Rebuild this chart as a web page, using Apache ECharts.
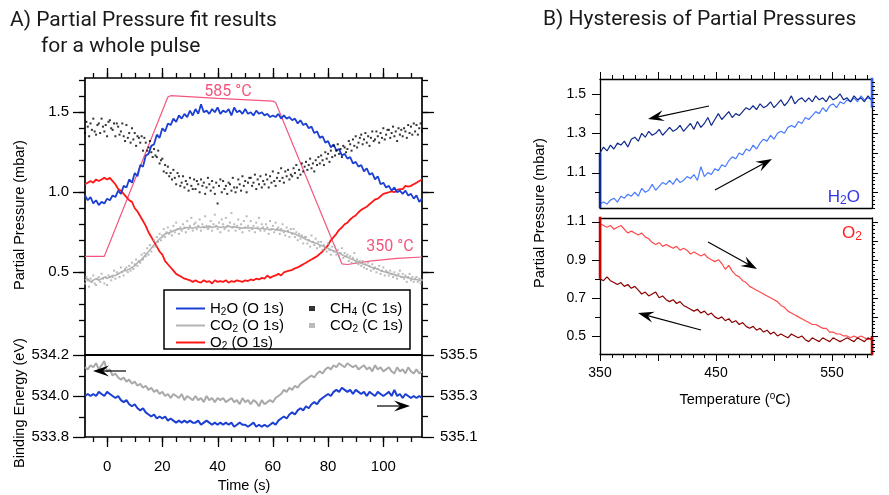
<!DOCTYPE html>
<html><head><meta charset="utf-8">
<script src="https://cdn.jsdelivr.net/npm/echarts@6/dist/echarts.min.js"></script>
<style>html,body{margin:0;padding:0;background:#fff}#c{width:889px;height:495px}</style>
</head><body><div id="c"></div>
<script>
// ---------- Panel A : sampling grid of the traces ----------
const A_T0 = -8, A_DT = 1;      // O 1s traces and binding energies (s)
const A_SDT = 0.5;              // C 1s scatter traces (s)

// Partial pressures (mbar), O 1s, t = -8 .. 114 s
const h2oO1s = [0.98,0.95,0.97,0.93,0.95,0.92,0.94,0.93,0.96,0.95,
0.98,0.97,1.01,0.99,1.04,1.03,1.08,1.06,1.12,1.10,
1.17,1.16,1.23,1.24,1.29,1.30,1.36,1.34,1.40,1.38,
1.43,1.42,1.46,1.44,1.48,1.46,1.49,1.47,1.51,1.48,
1.52,1.49,1.55,1.50,1.51,1.49,1.52,1.50,1.53,1.49,
1.51,1.50,1.52,1.48,1.53,1.50,1.51,1.49,1.52,1.49,
1.50,1.48,1.51,1.49,1.50,1.48,1.49,1.47,1.48,1.47,
1.49,1.46,1.48,1.46,1.47,1.45,1.46,1.43,1.45,1.42,
1.43,1.40,1.41,1.37,1.38,1.34,1.35,1.31,1.32,1.28,
1.30,1.26,1.27,1.23,1.24,1.21,1.22,1.18,1.19,1.16,
1.17,1.13,1.15,1.11,1.12,1.08,1.10,1.05,1.06,1.03,
1.04,1.01,1.03,1.00,1.01,0.99,1.01,0.98,0.99,0.96,
0.98,0.94,0.96];
const o2O1s = [1.05,1.06,1.07,1.06,1.08,1.07,1.08,1.09,1.08,1.09,
1.07,1.05,1.02,1.01,0.99,0.97,0.95,0.94,0.90,0.88,
0.85,0.82,0.79,0.75,0.72,0.69,0.66,0.63,0.61,0.57,
0.55,0.53,0.51,0.49,0.48,0.47,0.46,0.455,0.45,0.44,
0.45,0.44,0.435,0.45,0.44,0.445,0.43,0.45,0.44,0.445,
0.44,0.45,0.435,0.445,0.44,0.45,0.445,0.44,0.45,0.445,
0.455,0.45,0.46,0.455,0.465,0.46,0.48,0.465,0.475,0.48,
0.49,0.48,0.50,0.505,0.51,0.515,0.525,0.53,0.54,0.55,
0.56,0.57,0.58,0.59,0.60,0.615,0.63,0.65,0.67,0.70,
0.72,0.74,0.765,0.78,0.80,0.81,0.83,0.845,0.855,0.875,
0.89,0.90,0.91,0.925,0.94,0.955,0.96,0.975,0.99,0.995,
1.00,1.005,1.00,1.015,1.02,1.02,1.04,1.035,1.04,1.05,
1.06,1.07,1.08];
const co2O1s = [0.45,0.46,0.44,0.45,0.46,0.45,0.46,0.47,0.46,0.47,
0.48,0.48,0.49,0.50,0.51,0.51,0.52,0.53,0.54,0.56,
0.57,0.59,0.61,0.63,0.65,0.67,0.69,0.71,0.72,0.74,
0.745,0.75,0.76,0.765,0.77,0.77,0.775,0.78,0.78,0.775,
0.78,0.785,0.78,0.785,0.78,0.79,0.78,0.785,0.785,0.78,
0.785,0.78,0.79,0.78,0.785,0.78,0.78,0.775,0.78,0.775,
0.78,0.775,0.775,0.77,0.775,0.77,0.77,0.765,0.77,0.765,
0.765,0.76,0.76,0.755,0.75,0.745,0.74,0.73,0.725,0.715,
0.705,0.70,0.69,0.685,0.68,0.67,0.665,0.655,0.65,0.64,
0.635,0.625,0.62,0.61,0.60,0.595,0.585,0.58,0.57,0.565,
0.555,0.55,0.545,0.535,0.53,0.525,0.52,0.51,0.505,0.50,
0.495,0.49,0.485,0.48,0.475,0.47,0.47,0.465,0.46,0.455,
0.455,0.45,0.45];
// C 1s scatter, t = -8 .. 114 s every 0.5 s
const ch4C1s = [1.37,1.44,1.41,1.35,1.43,1.39,1.46,1.38,1.36,1.42,
1.43,1.37,1.46,1.41,1.38,1.42,1.35,1.44,1.45,1.40,
1.39,1.43,1.35,1.43,1.41,1.36,1.38,1.43,1.35,1.32,
1.42,1.34,1.37,1.31,1.40,1.33,1.37,1.29,1.35,1.34,
1.31,1.35,1.26,1.34,1.31,1.26,1.28,1.32,1.25,1.22,
1.27,1.23,1.22,1.26,1.18,1.20,1.21,1.13,1.17,1.12,
1.16,1.10,1.12,1.08,1.14,1.09,1.05,1.12,1.10,1.04,
1.06,1.10,1.03,1.07,1.05,1.01,1.09,1.04,1.02,1.08,
1.02,1.07,1.05,1.00,1.08,1.04,1.06,0.99,1.03,1.09,
1.05,1.01,1.07,1.03,0.99,1.06,0.93,1.04,1.08,1.00,
1.07,1.02,1.04,0.99,1.06,1.05,1.01,1.09,1.03,1.00,
1.03,1.08,1.05,1.01,1.10,1.04,1.07,1.00,1.06,1.09,
1.09,1.04,1.06,1.11,1.02,1.08,1.05,1.10,1.03,1.07,
1.05,1.11,1.08,1.03,1.10,1.06,1.13,1.07,1.04,1.09,
1.12,1.07,1.15,1.09,1.06,1.13,1.10,1.14,1.08,1.11,
1.10,1.15,1.12,1.17,1.09,1.14,1.11,1.18,1.13,1.16,
1.19,1.14,1.17,1.21,1.15,1.18,1.13,1.20,1.17,1.22,
1.18,1.23,1.20,1.17,1.25,1.21,1.24,1.19,1.26,1.22,
1.29,1.23,1.26,1.30,1.24,1.27,1.22,1.29,1.28,1.25,
1.27,1.32,1.30,1.26,1.33,1.29,1.35,1.28,1.31,1.34,
1.36,1.30,1.33,1.37,1.31,1.35,1.29,1.34,1.38,1.32,
1.33,1.38,1.35,1.31,1.37,1.34,1.40,1.33,1.36,1.39,
1.39,1.34,1.37,1.41,1.35,1.38,1.32,1.40,1.36,1.39,
1.35,1.40,1.38,1.34,1.42,1.37,1.41,1.36,1.43,1.38,
1.42,1.36,1.40,1.43,1.38];
const co2C1s = [0.43,0.47,0.45,0.41,0.46,0.44,0.48,0.43,0.42,0.46,
0.47,0.44,0.49,0.46,0.43,0.47,0.42,0.48,0.47,0.45,
0.47,0.51,0.46,0.50,0.49,0.47,0.53,0.50,0.48,0.52,
0.53,0.50,0.54,0.51,0.56,0.52,0.55,0.58,0.54,0.57,
0.56,0.61,0.58,0.62,0.60,0.65,0.61,0.67,0.63,0.66,
0.70,0.66,0.72,0.69,0.74,0.70,0.73,0.77,0.72,0.75,
0.78,0.74,0.76,0.73,0.79,0.75,0.81,0.77,0.74,0.78,
0.76,0.80,0.78,0.75,0.82,0.77,0.79,0.84,0.76,0.80,
0.81,0.77,0.79,0.83,0.76,0.80,0.78,0.85,0.79,0.77,
0.78,0.82,0.76,0.80,0.86,0.79,0.77,0.81,0.75,0.83,
0.80,0.77,0.84,0.79,0.76,0.81,0.87,0.78,0.80,0.76,
0.79,0.83,0.77,0.80,0.75,0.82,0.78,0.85,0.79,0.76,
0.82,0.77,0.79,0.75,0.81,0.78,0.84,0.76,0.80,0.78,
0.76,0.80,0.78,0.74,0.82,0.77,0.79,0.75,0.81,0.77,
0.78,0.74,0.77,0.80,0.75,0.73,0.78,0.76,0.72,0.77,
0.74,0.77,0.72,0.75,0.70,0.74,0.71,0.73,0.68,0.72,
0.72,0.68,0.70,0.66,0.73,0.69,0.67,0.71,0.65,0.69,
0.66,0.69,0.64,0.67,0.65,0.63,0.68,0.64,0.61,0.66,
0.63,0.66,0.61,0.64,0.60,0.62,0.65,0.59,0.62,0.60,
0.61,0.57,0.60,0.56,0.59,0.62,0.56,0.58,0.55,0.57,
0.54,0.57,0.53,0.55,0.52,0.56,0.54,0.51,0.55,0.52,
0.53,0.50,0.52,0.54,0.49,0.51,0.53,0.48,0.51,0.50,
0.48,0.51,0.49,0.47,0.50,0.48,0.46,0.49,0.51,0.47,
0.49,0.46,0.48,0.44,0.47,0.49,0.45,0.47,0.44,0.46,
0.47,0.44,0.46,0.43,0.45];
// Binding energies (eV), t = -8 .. 114 s
const beCO2 = [534.14,534.13,534.15,534.14,534.16,534.13,534.15,534.17,534.12,534.13,
534.10,534.11,534.09,534.08,534.09,534.07,534.08,534.06,534.07,534.05,
534.06,534.04,534.05,534.03,534.04,534.02,534.03,534.01,534.02,534.00,
534.01,533.99,534.01,534.00,533.99,534.01,533.98,534.00,533.99,533.98,
534.00,533.98,533.99,533.97,534.00,533.98,533.99,533.97,533.99,533.98,
533.99,533.97,533.98,533.99,533.97,533.98,533.96,533.99,533.97,533.98,
533.96,533.98,533.97,533.95,533.98,533.96,533.97,533.98,533.97,533.99,
534.00,534.01,534.03,534.02,534.04,534.03,534.05,534.04,534.06,534.07,
534.08,534.09,534.10,534.09,534.11,534.12,534.11,534.13,534.14,534.13,
534.15,534.14,534.16,534.15,534.14,534.16,534.15,534.14,534.15,534.13,
534.14,534.15,534.13,534.14,534.12,534.15,534.13,534.14,534.12,534.13,
534.14,534.12,534.11,534.14,534.12,534.13,534.11,534.14,534.12,534.11,
534.13,534.11,534.12];
const beH2O = [535.30,535.31,535.30,535.31,535.30,535.32,535.31,535.30,535.32,535.31,
535.30,535.29,535.30,535.28,535.27,535.28,535.26,535.25,535.26,535.24,
535.23,535.24,535.22,535.21,535.20,535.21,535.19,535.20,535.19,535.20,
535.18,535.19,535.18,535.17,535.18,535.17,535.18,535.17,535.18,535.17,
535.17,535.18,535.16,535.17,535.18,535.17,535.16,535.17,535.16,535.17,
535.16,535.17,535.16,535.17,535.15,535.16,535.17,535.16,535.16,535.15,
535.16,535.17,535.15,535.16,535.15,535.16,535.15,535.16,535.17,535.16,
535.18,535.19,535.20,535.19,535.21,535.22,535.21,535.23,535.24,535.23,
535.25,535.24,535.26,535.27,535.26,535.28,535.29,535.30,535.31,535.30,
535.32,535.33,535.32,535.34,535.33,535.32,535.33,535.31,535.33,535.32,
535.31,535.32,535.30,535.32,535.31,535.30,535.32,535.31,535.30,535.31,
535.32,535.30,535.33,535.30,535.31,535.29,535.31,535.30,535.29,535.30,
535.29,535.30,535.29];
// Sample temperature (°C) during the pulse
const tempTime = [-8,-1,22,23,40,60,61,85,87,95,105,114];
const tempC    = [350,350,584,586,582,578,576,339,338,343,347,349];

// ---------- Panel B : hysteresis, T = 350 .. 584 °C every 3 °C ----------
const B_T0 = 350, B_DT = 3;
const h2oCool = [1.20,1.23,1.21,1.24,1.22,1.25,1.24,1.26,1.23,1.27,
1.28,1.26,1.30,1.28,1.31,1.29,1.30,1.32,1.29,1.31,
1.33,1.31,1.32,1.34,1.31,1.33,1.35,1.32,1.36,1.33,
1.35,1.38,1.34,1.37,1.40,1.37,1.39,1.41,1.38,1.40,
1.39,1.41,1.43,1.42,1.44,1.42,1.45,1.43,1.44,1.46,
1.43,1.45,1.47,1.44,1.46,1.49,1.45,1.47,1.48,1.46,
1.48,1.46,1.49,1.47,1.48,1.46,1.49,1.47,1.48,1.50,
1.47,1.48,1.46,1.49,1.47,1.48,1.46,1.49,1.47];
const h2oHeat = [0.94,0.95,0.94,0.96,0.97,0.95,0.98,0.97,0.99,0.98,
1.00,0.98,1.02,1.00,1.01,1.04,1.01,1.03,1.05,1.04,
1.06,1.04,1.07,1.05,1.06,1.08,1.07,1.09,1.06,1.13,
1.08,1.10,1.09,1.12,1.11,1.14,1.13,1.16,1.18,1.17,
1.20,1.19,1.22,1.21,1.24,1.22,1.25,1.27,1.26,1.29,
1.27,1.30,1.31,1.30,1.33,1.34,1.33,1.36,1.35,1.38,
1.37,1.39,1.41,1.40,1.43,1.41,1.44,1.45,1.43,1.46,
1.45,1.47,1.46,1.48,1.46,1.49,1.47,1.48,1.47];
const o2Heat = [1.09,1.08,1.07,1.08,1.06,1.07,1.08,1.06,1.04,1.05,
1.04,1.03,1.04,1.02,1.01,0.99,0.98,0.99,0.97,0.98,
0.97,0.96,0.97,0.95,0.96,0.95,0.93,0.94,0.93,0.92,
0.93,0.91,0.90,0.89,0.90,0.88,0.85,0.87,0.84,0.82,
0.81,0.79,0.78,0.76,0.75,0.74,0.73,0.72,0.71,0.70,
0.69,0.68,0.66,0.65,0.63,0.62,0.61,0.60,0.59,0.58,
0.57,0.56,0.56,0.55,0.54,0.54,0.52,0.52,0.51,0.51,
0.50,0.50,0.49,0.50,0.49,0.50,0.49,0.48,0.49];
const o2Cool = [0.80,0.79,0.81,0.79,0.78,0.77,0.78,0.76,0.77,0.75,
0.76,0.74,0.72,0.73,0.71,0.72,0.73,0.70,0.71,0.69,
0.68,0.69,0.67,0.68,0.66,0.65,0.64,0.63,0.64,0.62,
0.63,0.61,0.62,0.60,0.59,0.60,0.58,0.59,0.57,0.58,
0.56,0.57,0.55,0.54,0.55,0.53,0.54,0.52,0.53,0.51,
0.52,0.50,0.51,0.50,0.49,0.51,0.50,0.49,0.50,0.48,
0.47,0.49,0.48,0.47,0.49,0.48,0.47,0.49,0.48,0.47,
0.48,0.49,0.48,0.47,0.49,0.48,0.47,0.49,0.48];
// jumps drawn on the plot edges where the loop closes
const h2oEdgeL = [[350,1.20],[350,0.92]];
const h2oEdgeR = [[584.5,1.43],[584.5,1.62]];
const o2EdgeL  = [[350,0.80],[350,1.13]];
const o2EdgeR  = [[584.5,0.50],[584.5,0.38]];

// ---------- tick labels ----------
const A_xLabels = [0,20,40,60,80,100];
const A_yLabels = [0.5,1.0,1.5];
const A_beLeftLabels = [533.8,534.0,534.2];
const A_beRightLabels = [535.1,535.3,535.5];
const B_xLabels = [350,450,550];
const B_y1Labels = [1.1,1.3,1.5];
const B_y2Labels = [0.5,0.7,0.9,1.1];

// ---------- layout ----------
const GRIDS=[
  {left:85,top:78,width:337,height:277},
  {left:85,top:355,width:337,height:82},
  {left:600,top:79,width:272,height:129},
  {left:600,top:218,width:272,height:136}
];
const RA_X=[-8,114], RA_Y=[-0.017,1.714], RA_BEL=[533.8,534.2], RA_BER=[535.1,535.5];
const RB_X=[350,584.5], RB_Y1=[0.92,1.576], RB_Y2=[0.405,1.119];

// ---------- helpers ----------
function steps(a,b,st){const r=[];const n=Math.round((b-a)/st);for(let i=0;i<=n;i++)r.push(+(a+i*st).toFixed(3));return r;}
const pairs=(arr,t0,dt)=>arr.map((v,i)=>[+(t0+i*dt).toFixed(2),v]);
const LAB_FONT='"Liberation Sans", Arial, sans-serif';
function ax(o){
  const a={
    type:'value', gridIndex:o.grid, position:o.pos, min:o.r[0], max:o.r[1],
    axisLine:{show:true,onZero:false,lineStyle:{color:'#000',width:o.lw||1.5}},
    axisTick:{show:false},
    axisLabel:o.labels?{show:true,customValues:o.labels.slice(),margin:o.margin,formatter:o.fmt,color:'#000',fontFamily:LAB_FONT,fontSize:o.fs||15}:{show:false},
    splitLine:{show:false}
  };
  if(o.show===false)a.show=false;
  return a;
}
const f1=v=>(+v).toFixed(1), f0=v=>String(Math.round(v));

const xAxis=[
  ax({grid:0,pos:'top',r:RA_X,lw:1.7}),
  ax({grid:1,pos:'bottom',r:RA_X,labels:A_xLabels,margin:22,fmt:f0,lw:1.7}),
  ax({grid:1,pos:'top',r:RA_X,lw:2.2}),
  ax({grid:2,pos:'top',r:RB_X,lw:1.3}),
  ax({grid:2,pos:'bottom',r:RB_X,lw:1.3}),
  ax({grid:3,pos:'bottom',r:RB_X,labels:B_xLabels,margin:12,fmt:f0,fs:14,lw:1.3}),
  ax({grid:3,pos:'top',r:RB_X,lw:1.3})
];
const yAxis=[
  ax({grid:0,pos:'left',r:RA_Y,labels:A_yLabels,margin:16,fmt:f1,lw:1.7}),
  ax({grid:0,pos:'right',r:RA_Y,lw:1.7}),
  ax({grid:0,pos:'right',r:[205,612],show:false}),
  ax({grid:1,pos:'left',r:RA_BEL,labels:A_beLeftLabels,margin:16,fmt:f1,lw:1.7}),
  ax({grid:1,pos:'right',r:RA_BER,labels:A_beRightLabels,margin:18,fmt:f1,lw:1.7}),
  ax({grid:2,pos:'left',r:RB_Y1,labels:B_y1Labels,margin:14,fmt:f1,fs:14,lw:1.3}),
  ax({grid:2,pos:'right',r:RB_Y1,lw:1.3}),
  ax({grid:3,pos:'left',r:RB_Y2,labels:B_y2Labels,margin:14,fmt:f1,fs:14,lw:1.3}),
  ax({grid:3,pos:'right',r:RB_Y2,lw:1.3})
];

// ---------- tick marks (outward), mapped with each axis' linear scale ----------
function tickLines(gi,dim,side,range,vals,len,w){
  const g=GRIDS[gi],out=[];
  vals.forEach(v=>{
    const f=(v-range[0])/(range[1]-range[0]);
    let x1,y1,x2,y2;
    if(dim==='x'){x1=x2=Math.round(g.left+f*g.width)+0.5; if(side==='bottom'){y1=g.top+g.height;y2=y1+len;}else{y1=g.top;y2=y1-len;}}
    else{y1=y2=Math.round(g.top+g.height-f*g.height)+0.5; if(side==='left'){x1=g.left;x2=x1-len;}else{x1=g.left+g.width;x2=x1+len;}}
    out.push({type:'polyline',z:20,shape:{points:[[x1,y1],[x2,y2]]},style:{stroke:'#000',lineWidth:w||1.3,fill:null}});
  });
  return out;
}
const ticks=[].concat(
  tickLines(0,'x','top',RA_X,A_xLabels,10), tickLines(0,'x','top',RA_X,steps(-5,110,5),5),
  tickLines(0,'y','left',RA_Y,A_yLabels,12), tickLines(0,'y','left',RA_Y,steps(0.1,1.7,0.1),6),
  tickLines(0,'y','right',RA_Y,A_yLabels,12), tickLines(0,'y','right',RA_Y,steps(0.1,1.7,0.1),6),
  tickLines(1,'x','bottom',RA_X,A_xLabels,10), tickLines(1,'x','bottom',RA_X,steps(-5,110,5),5),
  tickLines(1,'y','left',RA_BEL,A_beLeftLabels,12), tickLines(1,'y','left',RA_BEL,[533.9,534.1],6),
  tickLines(1,'y','right',RA_BER,A_beRightLabels,12), tickLines(1,'y','right',RA_BER,[535.2,535.4],6),
  tickLines(2,'x','top',RB_X,steps(350,550,50),7,1), tickLines(2,'x','top',RB_X,steps(350,580,10),4,1),
  tickLines(2,'y','left',RB_Y1,B_y1Labels,8,1), tickLines(2,'y','left',RB_Y1,[1.0,1.2,1.4],5,1),
  tickLines(2,'y','right',RB_Y1,steps(1.0,1.5,0.1),6,1), tickLines(2,'y','right',RB_Y1,steps(0.92,1.56,0.02),3,1),
  tickLines(3,'x','bottom',RB_X,steps(350,550,50),7,1), tickLines(3,'x','bottom',RB_X,steps(350,580,10),4,1),
  tickLines(3,'y','left',RB_Y2,B_y2Labels,8,1), tickLines(3,'y','left',RB_Y2,[0.6,0.8,1.0],5,1),
  tickLines(3,'y','right',RB_Y2,steps(0.5,1.1,0.1),6,1), tickLines(3,'y','right',RB_Y2,steps(0.42,1.1,0.02),3,1)
);

const C_BLUE='#1a3fd2', C_RED='#ff1616', C_GREY='#a9a9a9', C_PINK='#f4567d';
function line(name,x,y,data,color,w,z){return {name,type:'line',xAxisIndex:x,yAxisIndex:y,data,showSymbol:false,symbol:'none',lineStyle:{color,width:w},itemStyle:{color},z:z||2,clip:true,animation:false};}
function dots(name,x,y,data,color,sz){return {name,type:'scatter',xAxisIndex:x,yAxisIndex:y,data,symbol:'rect',symbolSize:sz,itemStyle:{color},z:2,animation:false};}

const series=[
  line('Temperature',0,2,tempTime.map((t,i)=>[t,tempC[i]]),C_PINK,1.2),
  dots('CO2 (C 1s)',0,0,pairs(co2C1s,A_T0,A_SDT),C_GREY,2),
  line('CO2 (O 1s)',0,0,pairs(co2O1s,A_T0,A_DT),'#b4b4b4',1.6),
  dots('CH4 (C 1s)',0,0,pairs(ch4C1s,A_T0,A_SDT),'#000',2),
  line('O2 (O 1s)',0,0,pairs(o2O1s,A_T0,A_DT),C_RED,1.8),
  line('H2O (O 1s)',0,0,pairs(h2oO1s,A_T0,A_DT),C_BLUE,1.8),
  line('BE CO2',1,3,pairs(beCO2,A_T0,A_DT),C_GREY,2),
  line('BE H2O',1,4,pairs(beH2O,A_T0,A_DT),C_BLUE,2),
  line('H2O heating',3,5,pairs(h2oHeat,B_T0,B_DT),'#4a7bff',1.2),
  line('H2O cooling',3,5,pairs(h2oCool,B_T0,B_DT),'#10298c',1.2),
  line('H2O edge L',3,5,h2oEdgeL,'#10298c',2.5),
  line('H2O edge R',3,5,h2oEdgeR,'#2a5cff',2.5),
  line('O2 heating',5,7,pairs(o2Heat,B_T0,B_DT),'#ff4a4a',1.2),
  line('O2 cooling',5,7,pairs(o2Cool,B_T0,B_DT),'#8a0000',1.2),
  line('O2 edge L',5,7,o2EdgeL,'#d00000',2.5),
  line('O2 edge R',5,7,o2EdgeR,'#b00000',2.5)
];

const legendRich={
  n:{fontSize:15,fontFamily:LAB_FONT,color:'#000',lineHeight:17},
  s:{fontSize:10,fontFamily:LAB_FONT,color:'#000',lineHeight:8,verticalAlign:'bottom'}
};
const legFmt=name=>'{n|'+name.replace(/([A-Z])(\d)/g,'$1}{s|$2}{n|')+'}';

function arrow(x1,y1,x2,y2){
  const a=Math.atan2(y2-y1,x2-x1),c=Math.cos(a),s=Math.sin(a);
  const P=(b,n)=>[x2-b*c-n*s, y2-b*s+n*c];
  return [
    {type:'polyline',z:20,shape:{points:[[x1,y1],P(9,0)]},style:{stroke:'#000',lineWidth:1.2,fill:null}},
    {type:'polygon',z:20,shape:{points:[P(0,0),P(16,5.5),P(10,0),P(16,-5.5)]},style:{fill:'#000'}}
  ];
}
const TFONT='Roboto, "Liberation Sans", sans-serif';
const graphic=[
  {type:'text',z:20,x:10,y:21,style:{text:'A) Partial Pressure fit results',font:'21px '+TFONT,fill:'#1a1a1a',align:'left',verticalAlign:'middle'}},
  {type:'text',z:20,x:41,y:47,style:{text:'for a whole pulse',font:'21px '+TFONT,fill:'#1a1a1a',align:'left',verticalAlign:'middle'}},
  {type:'text',z:20,x:543,y:20,style:{text:'B) Hysteresis of Partial Pressures',font:'21px '+TFONT,fill:'#1a1a1a',align:'left',verticalAlign:'middle'}},
  {type:'text',z:20,x:20,y:215,rotation:Math.PI/2,style:{text:'Partial Pressure (mbar)',font:'14.5px '+LAB_FONT,fill:'#000',align:'center',verticalAlign:'middle'}},
  {type:'text',z:20,x:20,y:403,rotation:Math.PI/2,style:{text:'Binding Energy (eV)',font:'14.5px '+LAB_FONT,fill:'#000',align:'center',verticalAlign:'middle'}},
  {type:'text',z:20,x:244,y:486,style:{text:'Time (s)',font:'14.5px '+LAB_FONT,fill:'#000',align:'center',verticalAlign:'middle'}},
  {type:'text',z:20,x:540,y:213,rotation:Math.PI/2,style:{text:'Partial Pressure (mbar)',font:'14.5px '+LAB_FONT,fill:'#000',align:'center',verticalAlign:'middle'}},
  {type:'text',z:20,x:735,y:400,style:{text:'{n|Temperature (}{p|o}{n|C)}',align:'center',verticalAlign:'middle',
     rich:{n:{fontSize:14.5,fontFamily:LAB_FONT,fill:'#000',lineHeight:18},p:{fontSize:10,fontFamily:LAB_FONT,fill:'#000',lineHeight:10,verticalAlign:'top'}}}},
  {type:'text',z:20,x:228,y:92,style:{text:'585 °C',font:'16px '+TFONT,fill:C_PINK,align:'center',verticalAlign:'middle'}},
  {type:'text',z:20,x:390,y:247,style:{text:'350 °C',font:'16px '+TFONT,fill:C_PINK,align:'center',verticalAlign:'middle'}},
  {type:'text',z:20,x:860,y:197,style:{text:'{a|H}{b|2}{a|O}',align:'right',verticalAlign:'middle',
     rich:{a:{fontSize:17,fontFamily:LAB_FONT,fill:'#3535ee',lineHeight:20},b:{fontSize:12,fontFamily:LAB_FONT,fill:'#3535ee',lineHeight:9,verticalAlign:'bottom'}}}},
  {type:'text',z:20,x:862,y:233,style:{text:'{a|O}{b|2}',align:'right',verticalAlign:'middle',
     rich:{a:{fontSize:17,fontFamily:LAB_FONT,fill:'#ff2020',lineHeight:20},b:{fontSize:12,fontFamily:LAB_FONT,fill:'#ff2020',lineHeight:9,verticalAlign:'bottom'}}}},
  {type:'rect',z:3,shape:{x:164,y:290,width:246,height:59},style:{fill:'#fff',stroke:'#000',lineWidth:1.5}},
  ...arrow(126,371,93,371),
  ...arrow(377,406,410,406),
  ...arrow(709,106,648,119),
  ...arrow(715,190,772,159),
  ...arrow(708,242,757,269),
  ...arrow(701,330,638,313),
  ...ticks
];

const chart=echarts.init(document.getElementById('c'),null,{renderer:'canvas'});
chart.setOption({
  animation:false,
  backgroundColor:'#fff',
  grid:GRIDS,
  xAxis, yAxis, series, graphic,
  legend:[
    {left:171,top:295,orient:'vertical',itemWidth:29,itemHeight:2,itemGap:0,icon:'rect',selectedMode:false,z:5,
     data:['H2O (O 1s)','CO2 (O 1s)','O2 (O 1s)'],formatter:legFmt,textStyle:{rich:legendRich,lineHeight:17}},
    {left:304,top:295,orient:'vertical',itemWidth:6,itemHeight:5,itemGap:0,icon:'rect',selectedMode:false,z:5,
     data:['CH4 (C 1s)','CO2 (C 1s)'],formatter:legFmt,textStyle:{rich:legendRich,lineHeight:17,padding:[0,0,0,10]}}
  ]
});
</script></body></html>
